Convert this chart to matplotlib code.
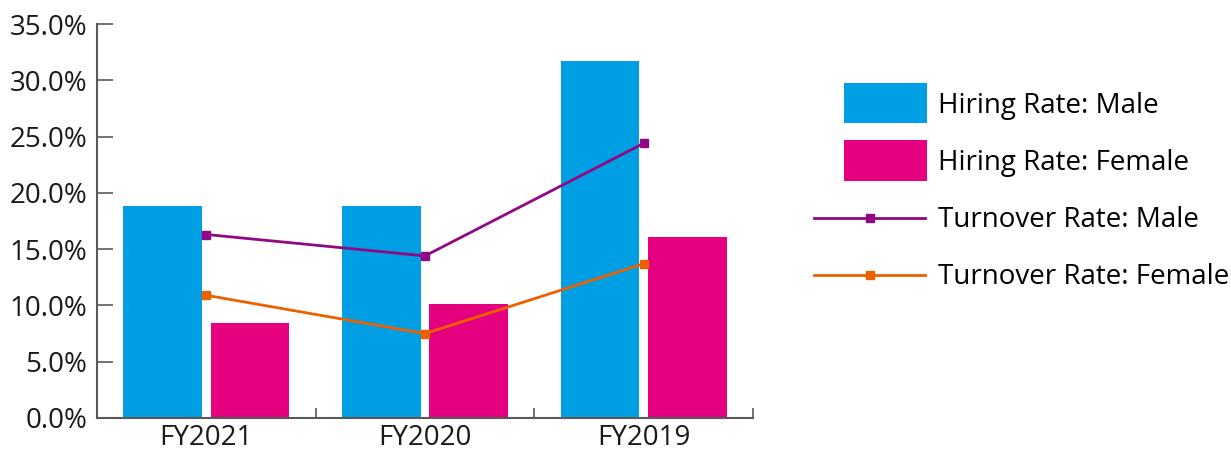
import matplotlib
matplotlib.use("Agg")
import matplotlib.pyplot as plt
from matplotlib.patches import Rectangle
from matplotlib.legend_handler import HandlerPatch
from matplotlib.ticker import FuncFormatter, FixedLocator
import numpy as np

plt.rcParams['font.family'] = ['Open Sans', 'DejaVu Sans']

categories = ["FY2021", "FY2020", "FY2019"]
hiring_male = [18.8, 18.8, 31.7]
hiring_female = [8.4, 10.1, 16.1]
turnover_male = [16.3, 14.4, 24.4]
turnover_female = [10.9, 7.5, 13.7]

c_blue = "#009FE3"
c_magenta = "#E4007F"
c_purple = "#920783"
c_orange = "#EB6100"
c_axis = "#595959"

fig = plt.figure(figsize=(12.31, 4.5), dpi=100)
ax = fig.add_axes([97 / 1231, 32 / 450, (753 - 97) / 1231, (418 - 24) / 450])

x = np.arange(len(categories))
w = 0.36
b1 = ax.bar(x - 0.2, hiring_male, w, color=c_blue, label="Hiring Rate: Male")
b2 = ax.bar(x + 0.2, hiring_female, w, color=c_magenta, label="Hiring Rate: Female")
l1, = ax.plot(x, turnover_male, color=c_purple, lw=2, marker="s", ms=5.5,
              label="Turnover Rate: Male")
l2, = ax.plot(x, turnover_female, color=c_orange, lw=2, marker="s", ms=5.5,
              label="Turnover Rate: Female")

ax.set_xlim(-0.5, 2.5)
ax.set_ylim(0, 35)
ax.set_yticks(np.arange(0, 36, 5))
ax.yaxis.set_major_formatter(FuncFormatter(lambda v, p: f"{v:.1f}%"))
ax.set_xticks(x)
ax.set_xticklabels(categories)
ax.xaxis.set_minor_locator(FixedLocator([0.5, 1.5, 2.5]))

for side in ("top", "right"):
    ax.spines[side].set_visible(False)
for side in ("left", "bottom"):
    ax.spines[side].set_color(c_axis)
    ax.spines[side].set_linewidth(1.5)

ax.tick_params(axis="y", direction="in", length=11.5, width=1.2, color=c_axis,
               labelsize=20, pad=7, labelcolor="#1a1a1a")
ax.tick_params(axis="x", which="major", length=0, labelsize=20, pad=4,
               labelcolor="#1a1a1a")
ax.tick_params(axis="x", which="minor", direction="in", length=7, width=1.2,
               color=c_axis)


def bar_handle(legend, orig_handle, xdescent, ydescent, width, height, fontsize):
    pw, ph = 60, 29
    return Rectangle((width - xdescent - pw + 1.5, height / 2 - ydescent - ph / 2),
                     pw, ph)


bar_handler = HandlerPatch(patch_func=bar_handle)
fig.legend([b1.patches[0], b2.patches[0], l1, l2],
           ["Hiring Rate: Male", "Hiring Rate: Female",
            "Turnover Rate: Male", "Turnover Rate: Female"],
           loc="upper left", bbox_to_anchor=(814 / 1231, 1 - 92 / 450),
           frameon=False, fontsize=20, handlelength=4.0, handletextpad=0.47,
           labelspacing=1.05, borderpad=0, borderaxespad=0,
           handler_map={b1.patches[0]: bar_handler, b2.patches[0]: bar_handler})

fig.savefig("out.png", dpi=100)
